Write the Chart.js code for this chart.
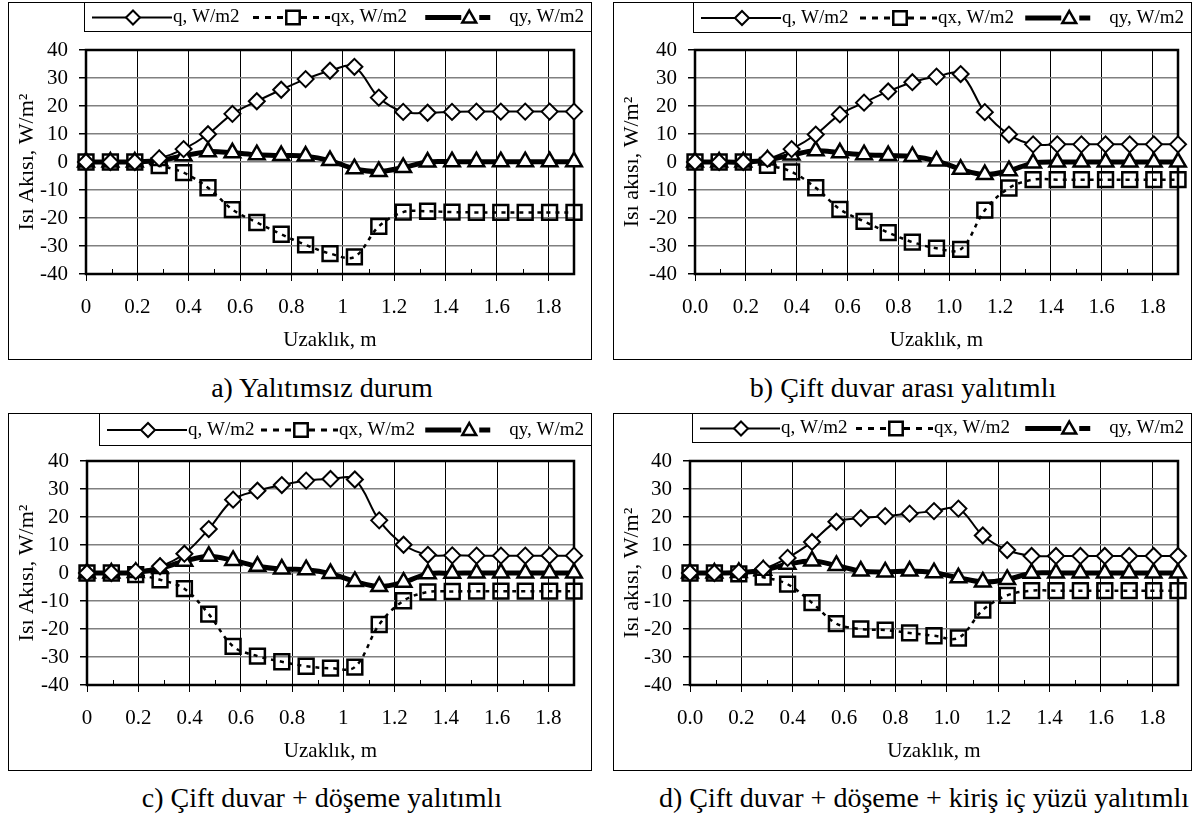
<!DOCTYPE html>
<html>
<head>
<meta charset="utf-8">
<script src="https://cdn.jsdelivr.net/npm/chart.js@4.4.0/dist/chart.umd.min.js"></script>
<style>
  body { margin: 0; background: #fff; }
  #page { position: relative; width: 1194px; height: 818px; overflow: hidden; background: #fff; }
  canvas { position: absolute; }
  .caption {
    position: absolute;
    font: 28px "Liberation Serif", "Times New Roman", serif;
    color: #000;
    white-space: nowrap;
    transform: translate(-50%, -50%);
  }
</style>
</head>
<body>
<div id="page">
  <canvas id="chartA" width="584" height="358" style="left:8px;top:2px"></canvas>
  <canvas id="chartB" width="579" height="358" style="left:613px;top:2px"></canvas>
  <canvas id="chartC" width="584" height="358" style="left:8px;top:413px"></canvas>
  <canvas id="chartD" width="579" height="358" style="left:613px;top:413px"></canvas>
  <div class="caption" style="left:322px;top:388px">a) Yalıtımsız durum</div>
  <div class="caption" style="left:903px;top:388px">b) Çift duvar arası yalıtımlı</div>
  <div class="caption" style="left:322px;top:798px">c) Çift duvar + döşeme yalıtımlı</div>
  <div class="caption" style="left:924px;top:798px">d) Çift duvar + döşeme + kiriş iç yüzü yalıtımlı</div>
</div>
<script>
// distance along the section, m
const distance = [0, 0.095, 0.19, 0.285, 0.38, 0.475, 0.57, 0.665, 0.76, 0.855, 0.95,
  1.045, 1.14, 1.235, 1.33, 1.425, 1.52, 1.615, 1.71, 1.805, 1.9]

const seriesLabels = ['q, W/m2', 'qx, W/m2', 'qy, W/m2']

// a) Yalıtımsız durum
const qA = [0, 0, 0, 1.3, 4.6, 9.9, 17.2, 21.7, 25.8, 29.6, 32.6, 34, 23, 17.9, 17.6, 17.9, 18, 18, 18, 18, 18]
const qxA = [0, 0, 0, -1.3, -3.8, -9.2, -17, -21.6, -25.8, -29.6, -32.7, -33.9, -23, -17.9, -17.6, -17.9, -18, -18, -18, -18, -18]
const qyA = [0, 0, 0, 0.5, 2.2, 3.7, 3.3, 2.6, 2.3, 2.1, 0.5, -2.4, -3.4, -2, 0, 0.1, 0.1, 0.1, 0.1, 0.1, 0.1]

// b) Çift duvar arası yalıtımlı
const qB = [0, 0, 0, 1.1, 4.6, 9.8, 17, 21.2, 25.2, 28.5, 30.5, 31.4, 17.8, 9.8, 6.3, 6.3, 6.3, 6.3, 6.3, 6.3, 6.3]
const qxB = [0, 0, 0, -1.2, -3.5, -9.2, -16.9, -21.2, -25.2, -28.6, -30.8, -31.2, -17.2, -9.3, -6.3, -6.3, -6.3, -6.3, -6.3, -6.3, -6.3]
const qyB = [0, 0, 0, 0.7, 2.5, 4, 3.3, 2.6, 2.3, 2, 0.4, -2.6, -4.5, -3.1, -0.4, 0, 0, 0, 0, 0, 0]

// c) Çift duvar + döşeme yalıtımlı
const qC = [0, 0, 0.6, 2.4, 6.9, 15.7, 26.2, 29.4, 31.4, 33, 33.6, 33.4, 18.8, 10.1, 6.5, 6.3, 6.2, 6.2, 6.2, 6.2, 6.2]
const qxC = [0, 0, -0.6, -2.4, -5.6, -14.7, -26.2, -29.7, -31.7, -33.3, -34, -33.6, -18.4, -9.9, -6.8, -6.6, -6.5, -6.5, -6.5, -6.5, -6.5]
const qyC = [0, 0, 0.2, 1.6, 4.2, 6, 4.5, 2.4, 1.4, 1.2, -0.2, -3, -4.8, -3.3, -0.3, -0.1, 0, 0, 0, 0, 0]

// d) Çift duvar + döşeme + kiriş iç yüzü yalıtımlı
const qD = [0, 0, 0.3, 1.5, 5.4, 11.1, 18.3, 19.6, 20.3, 21.2, 22.1, 23, 13.4, 8.2, 6.1, 6.1, 6.1, 6.1, 6.1, 6.1, 6.1]
const qxD = [0, 0, -0.3, -1.5, -4, -10.6, -18.1, -20, -20.4, -21.4, -22.4, -23.2, -13.2, -8, -6.3, -6.3, -6.3, -6.3, -6.3, -6.3, -6.3]
const qyD = [0, 0, 0.2, 1, 3.1, 4.3, 2.7, 0.7, 0.4, 0.7, 0.1, -1.7, -3.2, -2.3, -0.1, 0, 0, 0, 0, 0, 0]

const yTicksMin = -40
const yTicksMax = 40

const serif = '"Liberation Serif", "Times New Roman", serif'
Chart.defaults.font.family = serif
Chart.defaults.color = '#000'

const isMajor = v => Math.round(v * 10) % 2 === 0
const toPoints = ys => distance.map((x, i) => ({ x: x, y: ys[i] }))

// outer frame, plot frame, minor ticks and the excel-like legend box
const panelDecor = {
  id: 'panelDecor',
  beforeDraw(chart) {
    const ctx = chart.ctx
    ctx.save()
    ctx.fillStyle = '#fff'
    ctx.fillRect(0, 0, chart.width, chart.height)
    ctx.strokeStyle = '#000'
    ctx.lineWidth = 1
    ctx.strokeRect(0.5, 0.5, chart.width - 1, chart.height - 1)
    ctx.restore()
  },
  beforeDatasetsDraw(chart) {
    const ctx = chart.ctx
    const a = chart.chartArea
    const xs = chart.scales.x
    ctx.save()
    ctx.strokeStyle = '#000'
    ctx.lineWidth = 1
    for (let i = 1; i < 19; i += 2) {
      const px = Math.round(xs.getPixelForValue(i / 10)) + 0.5
      ctx.beginPath()
      ctx.moveTo(px, a.bottom)
      ctx.lineTo(px, a.bottom - 5)
      ctx.stroke()
    }
    ctx.lineWidth = 2.5
    ctx.strokeRect(a.left, a.top, a.right - a.left, a.bottom - a.top)
    ctx.restore()
  },
  afterDraw(chart, args, opts) {
    const ctx = chart.ctx
    const L = opts.left
    const R = chart.width
    const H = opts.height
    const cy = H / 2 + 1
    ctx.save()
    ctx.strokeStyle = '#000'
    ctx.lineWidth = 1
    ctx.strokeRect(L + 0.5, 0.5, R - L - 1, H)

    ctx.font = '19px ' + serif
    ctx.textBaseline = 'middle'

    // q
    ctx.lineWidth = 2
    ctx.beginPath(); ctx.moveTo(L + 8, cy); ctx.lineTo(L + 88, cy); ctx.stroke()
    ctx.fillStyle = '#fff'
    Chart.helpers.drawPoint(ctx, { pointStyle: 'rectRot', radius: 7, borderWidth: 2 }, L + 49, cy)
    ctx.fillStyle = '#000'
    ctx.fillText(seriesLabels[0], L + 89, cy)

    // qx
    const sq = L + opts.mid
    ctx.lineWidth = 3
    ctx.setLineDash([6, 6])
    ctx.beginPath(); ctx.moveTo(sq - 40, cy); ctx.lineTo(sq + 37, cy); ctx.stroke()
    ctx.setLineDash([])
    ctx.fillStyle = '#fff'
    ctx.lineWidth = 2.5
    Chart.helpers.drawPoint(ctx, { pointStyle: 'rect', radius: 9.5, borderWidth: 2.5 }, sq, cy)
    ctx.fillStyle = '#000'
    ctx.fillText(seriesLabels[1], sq + 38, cy)

    // qy, anchored to the right edge of the box
    const tw = ctx.measureText(seriesLabels[2]).width
    const tx = R - 8 - tw
    const tri = tx - 40
    ctx.lineWidth = 5
    ctx.beginPath(); ctx.moveTo(tri - 44, cy); ctx.lineTo(tri - 8, cy); ctx.stroke()
    ctx.beginPath(); ctx.moveTo(tri + 10, cy); ctx.lineTo(tri + 21, cy); ctx.stroke()
    ctx.fillStyle = '#fff'
    ctx.lineWidth = 2.5
    Chart.helpers.drawPoint(ctx, { pointStyle: 'triangle', radius: 8, borderWidth: 2.5 }, tri, cy + 1)
    ctx.fillStyle = '#000'
    ctx.fillText(seriesLabels[2], tx, cy)
    ctx.restore()
  }
}

const panels = [
  { id: 'chartA', q: qA, qx: qxA, qy: qyA, yTitle: 'Isı Akısı, W/m²', fixed: false, plotL: 78, plotR: 566, legendL: 76, legendH: 29, legendMid: 209 },
  { id: 'chartB', q: qB, qx: qxB, qy: qyB, yTitle: 'Isı akısı, W/m²', fixed: true, plotL: 82, plotR: 567, legendL: 80, legendH: 30, legendMid: 207 },
  { id: 'chartC', q: qC, qx: qxC, qy: qyC, yTitle: 'Isı Akısı, W/m²', fixed: false, plotL: 79, plotR: 566, legendL: 91, legendH: 32, legendMid: 202 },
  { id: 'chartD', q: qD, qx: qxD, qy: qyD, yTitle: 'Isı akısı, W/m²', fixed: true, plotL: 77, plotR: 567, legendL: 79, legendH: 29, legendMid: 204 }
]

const plotTop = 48
const plotBottom = 272

panels.forEach(p => {
  const canvas = document.getElementById(p.id)
  const W = canvas.width
  const H = canvas.height
  new Chart(canvas, {
    type: 'line',
    data: {
      datasets: [{
        label: seriesLabels[0],
        data: toPoints(p.q),
        borderColor: '#000',
        borderWidth: 2,
        pointStyle: 'rectRot',
        pointRadius: 8,
        pointBackgroundColor: '#fff',
        pointBorderColor: '#000',
        pointBorderWidth: 2,
        tension: 0.35,
        clip: false
      }, {
        label: seriesLabels[1],
        data: toPoints(p.qx),
        borderColor: '#000',
        borderWidth: 2.5,
        borderDash: [4, 5],
        pointStyle: 'rect',
        pointRadius: 10.5,
        pointBackgroundColor: 'rgba(0,0,0,0)',
        pointBorderColor: '#000',
        pointBorderWidth: 2.5,
        tension: 0.35,
        clip: false
      }, {
        label: seriesLabels[2],
        data: toPoints(p.qy),
        borderColor: '#000',
        borderWidth: 5,
        pointStyle: 'triangle',
        pointRadius: 9,
        pointBackgroundColor: '#fff',
        pointBorderColor: '#000',
        pointBorderWidth: 2.5,
        tension: 0.35,
        clip: false
      }]
    },
    options: {
      responsive: false,
      animation: false,
      layout: { padding: { left: 0, top: plotTop, right: W - p.plotR, bottom: 0 } },
      plugins: {
        legend: { display: false },
        tooltip: { enabled: false },
        panelDecor: { left: p.legendL, height: p.legendH, mid: p.legendMid }
      },
      scales: {
        x: {
          type: 'linear',
          min: 0,
          max: 1.9,
          afterFit: s => { s.height = H - plotBottom },
          ticks: {
            stepSize: 0.1,
            autoSkip: false,
            maxRotation: 0,
            padding: 14,
            font: { size: 21, family: serif },
            color: '#000',
            callback: v => isMajor(v) ? (p.fixed ? v.toFixed(1) : String(Math.round(v * 10) / 10)) : ''
          },
          grid: {
            color: c => (c.tick && !isMajor(c.tick.value)) ? 'rgba(0,0,0,0)' : '#000',
            tickColor: c => (c.tick && !isMajor(c.tick.value)) ? 'rgba(0,0,0,0)' : '#000',
            tickLength: 7,
            lineWidth: 1
          },
          border: { color: '#000', width: 2 },
          title: { display: true, text: 'Uzaklık, m', font: { size: 21, family: serif }, color: '#000', padding: { top: 0, bottom: 7 } }
        },
        y: {
          min: yTicksMin,
          max: yTicksMax,
          afterFit: s => { s.width = p.plotL },
          ticks: { stepSize: 10, autoSkip: false, padding: 11, font: { size: 21, family: serif }, color: '#000' },
          grid: { color: '#808080', lineWidth: 1.5, tickColor: '#000', tickLength: 7 },
          border: { color: '#000', width: 2 },
          title: { display: true, text: p.yTitle, font: { size: 22, family: serif }, color: '#000', padding: { top: 6, bottom: 0 } }
        }
      }
    },
    plugins: [panelDecor]
  })
})
</script>
</body>
</html>
